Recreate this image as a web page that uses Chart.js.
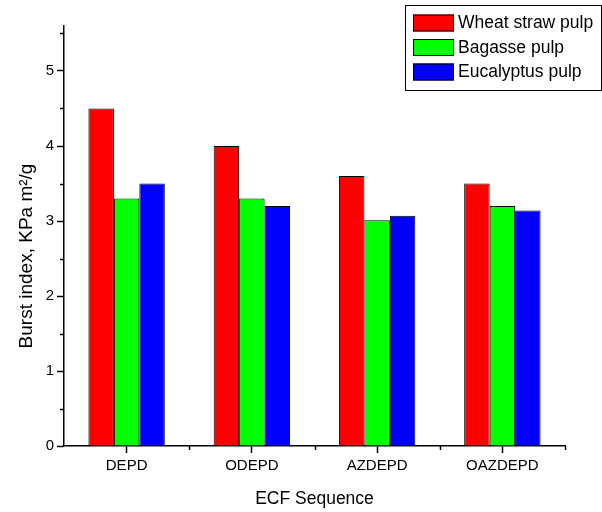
<!DOCTYPE html>
<html>
<head>
<meta charset="utf-8">
<script src="https://cdn.jsdelivr.net/npm/chart.js@4/dist/chart.umd.min.js"></script>
<style>
  html, body { margin: 0; padding: 0; background: #fff; }
  #wrap { width: 602px; height: 512px; }
</style>
</head>
<body>
<div id="wrap"><canvas id="grafico"></canvas></div>
<script>
const categorias = ['DEPD', 'ODEPD', 'AZDEPD', 'OAZDEPD'];
const series = ['Wheat straw pulp', 'Bagasse pulp', 'Eucalyptus pulp'];
const wheat = [4.5, 4.0, 3.6, 3.5];
const bagasse = [3.3, 3.3, 3.01, 3.2];
const eucalyptus = [3.5, 3.2, 3.07, 3.14];
const cores = ['#ff0000', '#00ff00', '#0000ff'];
const yTicks = [0, 1, 2, 3, 4, 5];
const yTicksMenores = [0.5, 1.5, 2.5, 3.5, 4.5, 5.5];
const tituloY = 'Burst index, KPa m\u00B2/g';

const fonte = '"Liberation Sans", Arial, sans-serif';

// minor ticks, y title and legend box
const extras = {
  id: 'extras',
  afterDraw(chart) {
    const ctx = chart.ctx;
    const x = chart.scales.x;
    const y = chart.scales.y;
    ctx.save();
    ctx.strokeStyle = '#000';
    ctx.lineWidth = 1.5;
    // y minor ticks
    yTicksMenores.forEach(v => {
      const py = Math.round(y.getPixelForValue(v)) + 0.5;
      ctx.beginPath();
      ctx.moveTo(x.left - 4, py);
      ctx.lineTo(x.left, py);
      ctx.stroke();
    });
    // x minor ticks at category boundaries
    const passo = x.getPixelForValue(1) - x.getPixelForValue(0);
    for (let i = 0; i < categorias.length; i++) {
      const px = Math.round(x.getPixelForValue(i) + passo / 2) + 0.5;
      ctx.beginPath();
      ctx.moveTo(px, y.bottom);
      ctx.lineTo(px, y.bottom + 4);
      ctx.stroke();
    }
    // y title
    ctx.fillStyle = '#000';
    ctx.font = '19px ' + fonte;
    ctx.textAlign = 'center';
    ctx.textBaseline = 'middle';
    ctx.translate(27, 256);
    ctx.rotate(-Math.PI / 2);
    ctx.fillText(tituloY, 0, 0);
    ctx.setTransform(1, 0, 0, 1, 0, 0);
    // legend
    const bx = 405, by = 5;
    ctx.lineWidth = 1;
    ctx.strokeRect(bx + 0.5, by + 0.5, 602 - bx - 1, 85);
    ctx.font = '17.5px ' + fonte;
    ctx.textAlign = 'left';
    chart.data.datasets.forEach((ds, i) => {
      const cy = 22.5 + i * 24.5;
      ctx.fillStyle = ds.backgroundColor;
      ctx.fillRect(bx + 8, cy - 8, 41, 17);
      ctx.strokeRect(bx + 8.5, cy - 7.5, 40, 16);
      ctx.fillStyle = '#000';
      ctx.fillText(ds.label, bx + 53, cy + 1);
    });
    ctx.restore();
  }
};

new Chart(document.getElementById('grafico').getContext('2d'), {
  type: 'bar',
  data: {
    labels: categorias,
    datasets: [
      { label: series[0], data: wheat, backgroundColor: cores[0] },
      { label: series[1], data: bagasse, backgroundColor: cores[1] },
      { label: series[2], data: eucalyptus, backgroundColor: cores[2] }
    ].map(d => Object.assign(d, { borderColor: '#000', borderWidth: 1, categoryPercentage: 0.61, barPercentage: 1 }))
  },
  options: {
    responsive: true,
    maintainAspectRatio: false,
    animation: false,
    layout: { padding: { top: 26, right: 37, left: 0, bottom: 0 } },
    plugins: {
      legend: { display: false },
      tooltip: { enabled: false }
    },
    scales: {
      x: {
        afterFit: s => { s.height = 66; },
        grid: { display: true, drawOnChartArea: false, offset: false, tickLength: 7, tickWidth: 1.5, tickColor: '#000' },
        border: { display: true, color: '#000', width: 1.5 },
        ticks: { color: '#000', font: { family: fonte, size: 15 }, padding: 4 },
        title: { display: true, text: 'ECF Sequence', color: '#000', font: { family: fonte, size: 17.5 }, padding: { top: 4, bottom: 2 } }
      },
      y: {
        min: 0,
        max: 5.6,
        afterFit: s => { s.width = 64; },
        grid: { display: true, drawOnChartArea: false, tickLength: 7, tickWidth: 1.5, tickColor: '#000' },
        border: { display: true, color: '#000', width: 1.5 },
        afterBuildTicks: s => { s.ticks = yTicks.map(v => ({ value: v })); },
        ticks: { color: '#000', font: { family: fonte, size: 15 }, padding: 3 },
        title: { display: false }
      }
    }
  },
  plugins: [extras]
});
</script>
</body>
</html>
